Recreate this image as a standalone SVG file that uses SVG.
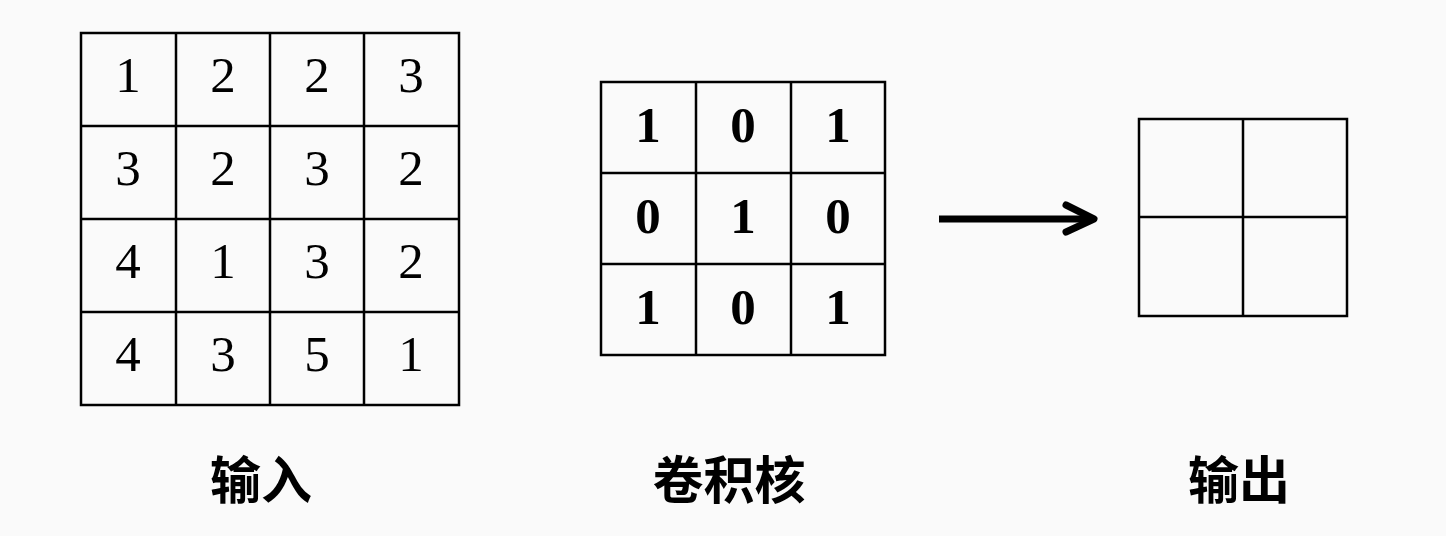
<svg xmlns="http://www.w3.org/2000/svg" width="1446" height="536" viewBox="0 0 1446 536">
<style>
.g{fill:none;stroke:#000;stroke-width:2.5}
.n{font-family:"Liberation Serif","Times New Roman",serif;font-size:51px;fill:#000;text-anchor:middle}
.b{font-weight:bold}
.l{font-family:"Noto Sans CJK SC","Noto Sans",sans-serif;font-size:51px;font-weight:bold;fill:#000;text-anchor:middle}
</style>
<rect width="1446" height="536" fill="#fafafa"/>
<g id="input">
<rect class="g" x="81" y="33" width="378" height="372"/>
<path class="g" d="M176 33V405M270 33V405M364 33V405M81 126H459M81 219H459M81 312H459"/>
<g class="n">
<text x="128" y="92">1</text><text x="223" y="92">2</text><text x="317" y="92">2</text><text x="411" y="92">3</text>
<text x="128" y="185">3</text><text x="223" y="185">2</text><text x="317" y="185">3</text><text x="411" y="185">2</text>
<text x="128" y="278">4</text><text x="223" y="278">1</text><text x="317" y="278">3</text><text x="411" y="278">2</text>
<text x="128" y="371">4</text><text x="223" y="371">3</text><text x="317" y="371">5</text><text x="411" y="371">1</text>
</g>
<text class="l" x="261" y="499">输入</text>
</g>
<g id="kernel">
<rect class="g" x="601" y="82" width="284" height="273"/>
<path class="g" d="M696 82V355M791 82V355M601 173H885M601 264H885"/>
<g class="n b">
<text x="648" y="142">1</text><text x="743" y="142">0</text><text x="838" y="142">1</text>
<text x="648" y="233">0</text><text x="743" y="233">1</text><text x="838" y="233">0</text>
<text x="648" y="324">1</text><text x="743" y="324">0</text><text x="838" y="324">1</text>
</g>
<text class="l" x="729" y="499">卷积核</text>
</g>
<g id="output">
<rect class="g" x="1139" y="119" width="208" height="197"/>
<path class="g" d="M1243 119V316M1139 217H1347"/>
<text class="l" x="1239" y="499">输出</text>
</g>
<g id="connectors">
<path d="M939 219H1092" stroke="#000" stroke-width="7" fill="none"/>
<path d="M1066 205L1094 219L1066 232" stroke="#000" stroke-width="7" fill="none" stroke-linecap="round" stroke-linejoin="round"/>
</g>
</svg>
